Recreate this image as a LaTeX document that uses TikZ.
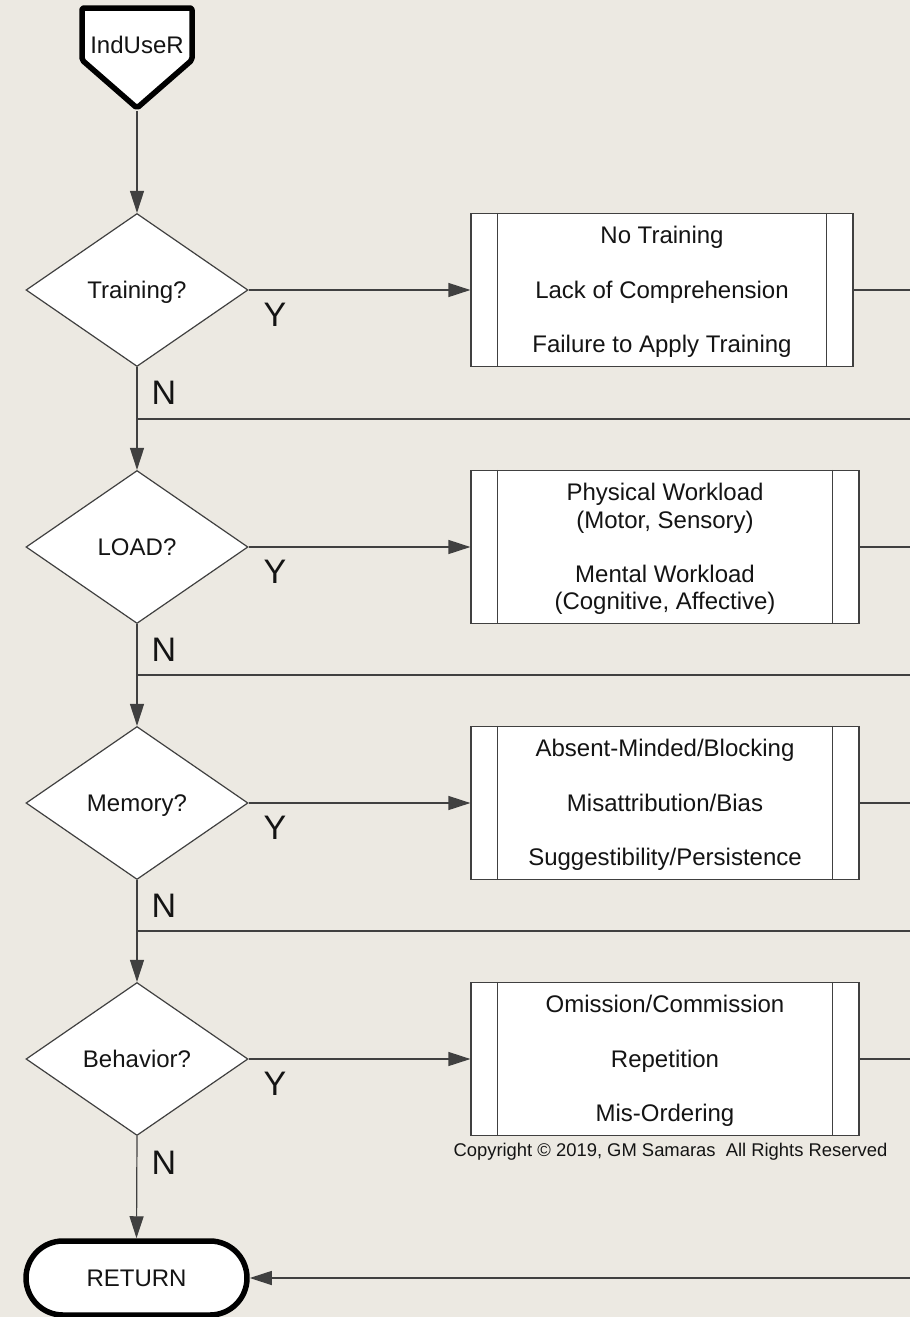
\documentclass[tikz,border=0pt]{standalone}
\usepackage{fontspec}
\setmainfont{Liberation Sans}
\usetikzlibrary{shapes.geometric,arrows.meta}
\definecolor{paper}{HTML}{ECE9E2}
\definecolor{ink}{HTML}{404040}
\definecolor{lettering}{HTML}{141414}

\begin{document}
\begin{tikzpicture}[x=1pt,y=-1pt,
  txt/.style={font=\fontsize{24}{29}\selectfont, text=lettering},
  decision/.style={diamond, draw=ink, fill=white, line width=1.2pt,
    minimum width=222pt, minimum height=153pt, inner sep=1pt, txt,
    text height=17pt, text depth=0pt},
  procbox/.style={rectangle, draw=ink, fill=white, line width=1.2pt,
    minimum height=153pt, inner sep=0pt},
  boxtext/.style={align=center, text=lettering, inner sep=0pt},
  flow/.style={draw=ink, line width=1.2pt},
  arr/.style={flow, -{Triangle[length=22pt,width=14pt]}},
  yn/.style={font=\fontsize{34}{40}\selectfont, text=lettering},
  heavy/.style={draw=black, line width=5.5pt, fill=white, line join=round},
  wide/.style={boxtext, font=\fontsize{24}{54.5}\selectfont},
  pairs/.style={boxtext, font=\fontsize{24}{27.5}\selectfont}
]
% canvas
\fill[paper] (0,0) rectangle (910,1317);
\useasboundingbox (0,0) rectangle (910,1317);

% entry point
\path[heavy, rounded corners=2pt] (82,8) -- (192,8) -- (192,60) -- (137,108) -- (82,60) -- cycle;
\node[txt] (start) at (137,45) {IndUseR};
\coordinate (starttip) at (137,111);

% decisions
\node[decision] (d1) at (137,290) {Training?};
\node[decision] (d2) at (137,547) {LOAD?};
\node[decision] (d3) at (137,803) {Memory?};
\node[decision] (d4) at (137,1059) {Behavior?};

% predefined process boxes
\node[procbox, minimum width=382pt] (b1) at (662,290) {};
\node[procbox, minimum width=388pt] (b2) at (665,547) {};
\node[procbox, minimum width=388pt] (b3) at (665,803) {};
\node[procbox, minimum width=388pt] (b4) at (665,1059) {};
\foreach \b in {b1,b2,b3,b4}{
  \draw[flow] ([xshift=27pt]\b.north west) -- ([xshift=27pt]\b.south west);
  \draw[flow] ([xshift=-27pt]\b.north east) -- ([xshift=-27pt]\b.south east);
}
\node[wide] (t1) at ([yshift=-2pt]b1.center)
  {No Training\\Lack of Comprehension\\Failure to Apply Training};
\node[pairs] (t2) at ([yshift=-2pt]b2.center)
  {Physical Workload\\(Motor, Sensory)\\[26.5pt]Mental Workload\\(Cognitive, Affective)};
\node[wide] (t3) at ([yshift=-2pt]b3.center)
  {Absent-Minded/Blocking\\Misattribution/Bias\\Suggestibility/Persistence};
\node[wide] (t4) at ([yshift=-2pt]b4.center)
  {Omission/Commission\\Repetition\\Mis-Ordering};

% terminal
\node[heavy, rectangle, rounded corners=37pt, minimum width=221pt,
  minimum height=74pt, txt] (ret) at (136.5,1278) {RETURN};

% junctions and off-page ends
\coordinate (j1) at (137,419);
\coordinate (j2) at (137,675);
\coordinate (j3) at (137,931);
\coordinate (m1) at (910,419);
\coordinate (m2) at (910,675);
\coordinate (m3) at (910,931);
\coordinate (e1) at (910,290);
\coordinate (e2) at (910,547);
\coordinate (e3) at (910,803);
\coordinate (e4) at (910,1059);
\coordinate (m4) at (910,1278);

% main flow
\draw[arr] (starttip) -- (d1.north);
\draw[arr] (d1.south) -- (d2.north);
\draw[arr] (d2.south) -- (d3.north);
\draw[arr] (d3.south) -- (d4.north);
\draw[arr] (d4.south) -- (ret.north);

% yes branches
\draw[arr] (d1.east) -- (b1.west);
\draw[arr] (d2.east) -- (b2.west);
\draw[arr] (d3.east) -- (b3.west);
\draw[arr] (d4.east) -- (b4.west);

% outgoing and returning lines
\draw[flow] (b1.east) -- (e1);
\draw[flow] (b2.east) -- (e2);
\draw[flow] (b3.east) -- (e3);
\draw[flow] (b4.east) -- (e4);
\draw[flow] (m1) -- (j1);
\draw[flow] (m2) -- (j2);
\draw[flow] (m3) -- (j3);
\draw[arr] (m4) -- (ret.east);

% branch labels
\node[yn] (y1) at (275,315) {Y};
\node[yn] (y2) at (275,572) {Y};
\node[yn] (y3) at (275,828) {Y};
\node[yn] (y4) at (275,1084) {Y};
\node[yn] (n1) at (164,393) {N};
\node[yn] (n2) at (164,650) {N};
\node[yn] (n3) at (164,906) {N};
\node[yn] (n4) at (164,1163) {N};

% notice
\node[font=\fontsize{18.4}{22}\selectfont, text=lettering] (copy) at (670.5,1152)
  {Copyright © 2019, GM Samaras\ \ All Rights Reserved};
\end{tikzpicture}
\end{document}
